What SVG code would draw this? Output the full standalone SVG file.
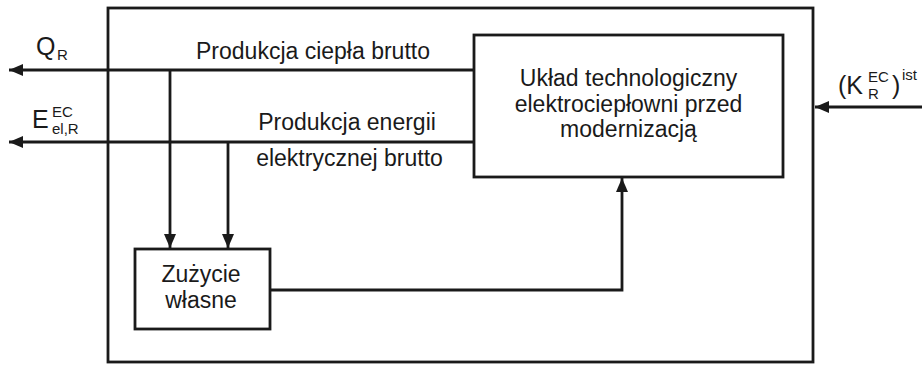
<svg xmlns="http://www.w3.org/2000/svg" width="922" height="365" viewBox="0 0 922 365">
<style>
.box{fill:#fff;stroke:#1a1a1a;stroke-width:2.8}
.ln{fill:none;stroke:#1a1a1a;stroke-width:2.8}
text{font-family:"Liberation Sans",Arial,sans-serif;fill:#1a1a1a}
.lb{font-size:23px}
.big{font-size:25px}
.sm{font-size:15px}
</style>
<defs>
<marker id="ah" markerUnits="userSpaceOnUse" markerWidth="14" markerHeight="12" refX="14" refY="6" orient="auto">
<path d="M0,0 L14,6 L0,12 z" fill="#1a1a1a"/>
</marker>
</defs>
<g id="outer"><rect class="box" x="108" y="8" width="705" height="354"/></g>
<g id="connectors">
<path class="ln" d="M474,70 H9" marker-end="url(#ah)"/>
<path class="ln" d="M474,142 H9" marker-end="url(#ah)"/>
<path class="ln" d="M170,70 V248" marker-end="url(#ah)"/>
<path class="ln" d="M228,142 V248" marker-end="url(#ah)"/>
<path class="ln" d="M270,290 H622 V178" marker-end="url(#ah)"/>
<path class="ln" d="M922,107 H815" marker-end="url(#ah)"/>
</g>
<g id="uklad">
<rect class="box" x="474" y="35" width="309" height="142"/>
<text class="lb" x="628.5" y="86" text-anchor="middle">Układ technologiczny</text>
<text class="lb" x="628.5" y="112" text-anchor="middle">elektrociepłowni przed</text>
<text class="lb" x="628.5" y="137" text-anchor="middle">modernizacją</text>
</g>
<g id="zuzycie">
<rect class="box" x="135" y="249" width="135" height="80"/>
<text class="lb" x="201" y="282" text-anchor="middle">Zużycie</text>
<text class="lb" x="201" y="308" text-anchor="middle">własne</text>
</g>
<g id="labels">
<text class="lb" x="313" y="59" text-anchor="middle">Produkcja ciepła brutto</text>
<text class="lb" x="347" y="130" text-anchor="middle">Produkcja energii</text>
<text class="lb" x="349.5" y="166" text-anchor="middle">elektrycznej brutto</text>
<text class="big" x="36" y="55">Q</text>
<text class="sm" x="57" y="60">R</text>
<text class="big" x="32" y="128">E</text>
<text class="sm" x="52" y="117">EC</text>
<text class="sm" x="52" y="134">el,R</text>
<text class="big" x="838" y="94">(K</text>
<text class="sm" x="868" y="82">EC</text>
<text class="sm" x="868" y="99">R</text>
<text class="big" x="892" y="94">)</text>
<text class="sm" x="902" y="80">ist</text>
</g>
</svg>
